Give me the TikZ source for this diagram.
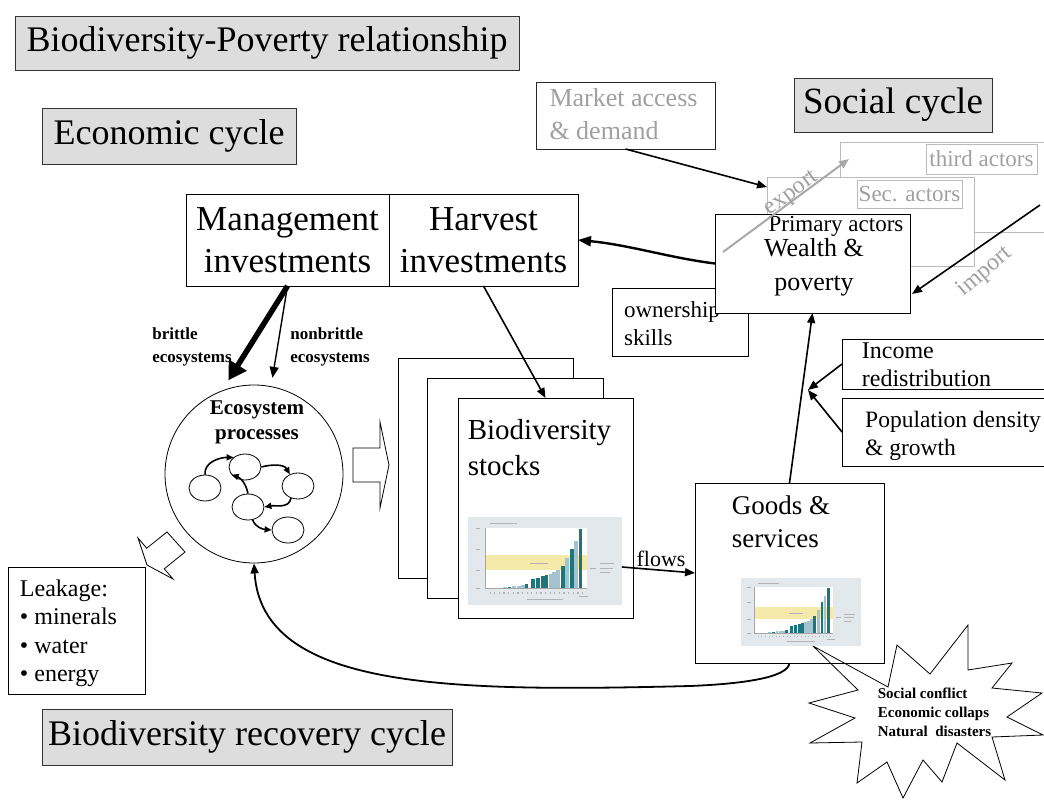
\documentclass[tikz,border=0pt]{standalone}
\usepackage{fontspec}
\setmainfont{Liberation Serif}
\usetikzlibrary{arrows.meta,calc,shapes.geometric}
\definecolor{titlefill}{HTML}{DDDDDD}
\definecolor{actline}{HTML}{BBBBBB}
\definecolor{acttext}{HTML}{A0A0A0}
\definecolor{chartteal}{HTML}{1B767E}
\definecolor{chartlight}{HTML}{A3C3CE}
\definecolor{chartbg}{HTML}{E2E8EC}
\definecolor{chartyel}{HTML}{F5EAAA}
\definecolor{expgray}{HTML}{A8A8A8}

\newcommand{\bpchart}[4]{%
 \begin{scope}[shift={(#1,#2)},xscale=#3,yscale=#4]
  \fill[chartbg] (0,0) rectangle (1,1);
  \fill[white] (0.11,0.13) rectangle (0.77,0.81);
  \fill[chartyel] (0.11,0.43) rectangle (0.77,0.60);
  \draw[gray!70,line width=0.3pt] (0.11,0.13) -- (0.11,0.81) -- (0.77,0.81);
  \foreach \cbx/\cbt/\cbc in {0.24/0.80/chartlight,0.27/0.79/chartteal,0.30/0.785/chartlight,0.33/0.78/chartlight,0.355/0.775/chartlight,0.38/0.76/chartteal,0.42/0.71/chartteal,0.455/0.69/chartteal,0.485/0.67/chartteal,0.51/0.655/chartteal,0.535/0.645/chartlight,0.56/0.625/chartlight,0.585/0.60/chartlight,0.615/0.56/chartteal,0.645/0.47/chartlight,0.675/0.36/chartteal,0.70/0.27/chartlight,0.73/0.14/chartteal}
   {\fill[\cbc] (\cbx-0.012,\cbt) rectangle (\cbx+0.012,0.81);}
  \foreach \cbx in {0.14,0.17,...,0.74} {\fill[gray!60] (\cbx,0.85) rectangle (\cbx+0.008,0.87);}
  \draw[gray!60,line width=0.3pt] (0.14,0.07) -- (0.32,0.07)
    (0.38,0.93) -- (0.62,0.93) (0.72,0.90) -- (0.78,0.90)
    (0.86,0.53) -- (0.95,0.53) (0.86,0.58) -- (0.94,0.58) (0.86,0.63) -- (0.92,0.63)
    (0.79,0.58) -- (0.83,0.58) (0.40,0.52) -- (0.52,0.52)
    (0.05,0.13) -- (0.08,0.13) (0.05,0.36) -- (0.08,0.36) (0.05,0.60) -- (0.08,0.60) (0.05,0.81) -- (0.08,0.81);
 \end{scope}}

\begin{document}
\begin{tikzpicture}[x=1pt,y=-1pt,
  box/.style={draw=black, line width=0.8pt, fill=white, inner sep=0pt, outer sep=0pt, anchor=north west},
  titlebox/.style={box, draw=black!80, fill=titlefill, font=\fontsize{36}{43}\selectfont},
  graybox/.style={box, draw=actline},
  txt/.style={inner sep=0pt, outer sep=0pt},
  bigfont/.style={font=\fontsize{35}{42}\selectfont},
  midfont/.style={font=\fontsize{24}{28.5}\selectfont},
  smfont/.style={font=\fontsize{23}{28}\selectfont},
  arr/.style={line width=1.6pt, -{Triangle[length=10pt,width=8pt]}},
  smarr/.style={line width=1.6pt, -{Triangle[length=7pt,width=6pt]}},
  smell/.style={draw, ellipse, line width=0.8pt, minimum width=32pt, minimum height=26pt, inner sep=0pt}]
\useasboundingbox (0,0) rectangle (1044,805);
\clip (0,0) rectangle (1044,805);

% titles
\node[titlebox, minimum width=504pt, minimum height=54pt] (title) at (15,16) {Biodiversity-Poverty relationship};
\node[titlebox, minimum width=254pt, minimum height=56pt] (econ) at (42,108) {Economic cycle};
\node[titlebox, minimum width=410pt, minimum height=56pt] (recov) at (42,709) {Biodiversity recovery cycle};
\node[titlebox, font=\fontsize{37}{44}\selectfont, minimum width=198pt, minimum height=54pt] (social) at (794,78) {Social cycle};

% market access
\node[box, draw=black!85, minimum width=179pt, minimum height=67pt] (market) at (536,82) {};
\node[txt, align=left, text=acttext, font=\fontsize{26}{33}\selectfont] (markettxt) at (623.5,114.5) {Market access\\\& demand};

% actors
\node[graybox, minimum width=220pt, minimum height=90pt] (third) at (840,142) {};
\node[graybox, smfont, text=acttext, minimum width=111pt, minimum height=30pt] (thirdlbl) at (926,144) {third actors};
\node[graybox, minimum width=207pt, minimum height=89pt] (sec) at (767,177) {};
\node[graybox, smfont, text=acttext, minimum width=105pt, minimum height=28pt] (seclbl) at (857,180) {Sec. actors};
\node[box, minimum width=136pt, minimum height=68pt] (own) at (612,288) {};
\node[txt, smfont, align=left] (owntxt) at (672,324) {ownership\\skills};
\node[box, minimum width=195pt, minimum height=99pt] (prim) at (715,214) {};
\node[txt, smfont] (primlbl) at (836,226) {Primary actors};
\node[txt, align=center, font=\fontsize{26}{34}\selectfont] (wealth) at (814,267) {Wealth \&\\poverty};

% income / population
\node[box, minimum width=220pt, minimum height=50pt] (income) at (842,339) {};
\node[txt, midfont, align=left] (incometxt) at (926.5,365) {Income\\redistribution};
\node[box, minimum width=220pt, minimum height=68pt] (pop) at (842,398) {};
\node[txt, align=left, font=\fontsize{23.5}{28}\selectfont] (poptxt) at (953,435.5) {Population density\\\& growth};

% investments
\node[box, bigfont, align=center, minimum width=203pt, minimum height=92pt] (mgmt) at (186,194) {Management\\investments};
\node[box, bigfont, align=center, minimum width=189pt, minimum height=92pt] (harv) at (389,194) {Harvest\\investments};

% biodiversity stocks pages
\node[box, minimum width=175pt, minimum height=220pt] (pgback) at (398,358) {};
\node[box, minimum width=176pt, minimum height=220pt] (pgmid) at (427,378) {};
\node[box, minimum width=175pt, minimum height=220pt] (pgfront) at (458,398) {};
\node[txt, align=left, font=\fontsize{29}{36}\selectfont] (stockstxt) at (539.5,448) {Biodiversity\\stocks};
\bpchart{468}{517}{154}{88}

% starburst
\draw[line width=0.8pt] (813,646) -- (858,690) -- (809,703) -- (855,718) -- (810,743) -- (862,742) -- (857,783) -- (887,762) -- (903,798) -- (923,760) -- (942,782) -- (957,743) -- (1005,780) -- (992,737) -- (1043,735) -- (1007,717) -- (1042,693) -- (992,688) -- (1012,663) -- (968,670) -- (968,625) -- (930,674) -- (897,645) -- (888,687) -- cycle;
\node[txt, align=left, font=\fontsize{15}{19}\selectfont\bfseries] (burst) at (934.5,712) {Social conflict\\Economic collaps\\Natural\ \ disasters};

% goods & services
\node[box, fill=none, minimum width=189pt, minimum height=180pt] (goods) at (695,483) {};
\node[txt, align=left, font=\fontsize{27}{33}\selectfont] (goodstxt) at (781,522) {Goods \&\\services};
\bpchart{741}{578}{120}{68}

% ecosystem circle
\node[draw, circle, line width=0.8pt, minimum size=178pt, inner sep=0pt] (eco) at (254,474) {};
\node[txt, align=center, font=\fontsize{21}{25}\selectfont\bfseries] (ecotxt) at (257,422.5) {Ecosystem\\processes};
\node[smell] (e1) at (205,488) {};
\node[smell] (e2) at (245,467) {};
\node[smell] (e3) at (298,486) {};
\node[smell] (e4) at (248,507) {};
\node[smell] (e5) at (288,530) {};
\draw[smarr] (e1.north) to[out=95,in=180] (e2.140);
\draw[smarr] (e2.east) to[out=15,in=120] (e3.125);
\draw[smarr] (e3.240) to[out=260,in=10] (e4.east);
\draw[smarr] (e4.north) to[bend right=30] (e2.210);
\draw[smarr] (e4.290) to[out=-70,in=175] (e5.west);

% block arrows
\draw[line width=0.8pt, fill=white] (353,448) -- (380,448) -- (380,422) -- (389,465) -- (380,508) -- (380,482) -- (353,482) -- cycle;
\draw[line width=0.8pt, fill=white] (167,532) -- (146.7,548.2) -- (138,538) -- (147,565) -- (173,579) -- (164.3,568.8) -- (185,552) -- cycle;

% leakage
\node[box, minimum width=137pt, minimum height=127pt] (leak) at (8,567) {};
\node[txt, midfont, align=left] (leaktxt) at (68.5,633.5) {Leakage:\\• minerals\\• water\\• energy};

% brittle labels
\node[txt, align=left, font=\fontsize{17}{23}\selectfont\bfseries] (brittle) at (192,346.5) {brittle\\ecosystems};
\node[txt, align=left, font=\fontsize{17}{23}\selectfont\bfseries] (nonbrittle) at (330,346.5) {nonbrittle\\ecosystems};

% management arrows
\draw[line width=5.5pt, -{Triangle[length=18pt,width=20pt]}, shorten >=12pt] (mgmt.south) -- (eco.111);
\draw[line width=1.4pt, -{Triangle[length=11pt,width=9pt]}, shorten >=8.5pt] (mgmt.south) -- (eco.79);

% other connectors
\draw[arr] (harv.south) -- (pgfront.north);
\coordinate (flowS) at (622,567);
\draw[arr] (flowS) -- (goods.west);
\node[txt, font=\fontsize{22}{26}\selectfont] (flowslbl) at (661,559) {flows};
\draw[line width=1.8pt, -{Triangle[length=10pt,width=8pt]}] (goods.south) .. controls (788,678) and (740,684) .. (690,686) .. controls (450,692) and (262,690) .. (eco.south);
\draw[arr] (goods.north) -- (prim.south);
\coordinate (meet) at (808,390);
\draw[arr] (income.west) -- (meet);
\draw[arr] (pop.west) -- (meet);
\draw[line width=2.4pt, -{Triangle[length=13pt,width=10pt]}] (prim.west) .. controls (670,258) and (630,245) .. (harv.east);
\coordinate (secin) at (767,187);
\draw[arr] (market.south) -- (secin);
\coordinate (expS) at (723,252);
\coordinate (expE) at (849,159);
\draw[line width=2pt, draw=expgray, -{Triangle[length=10pt,width=8pt]}] (expS) -- (expE);
\node[txt, text=acttext, rotate=36, font=\fontsize{24}{28}\selectfont] (exptxt) at (792,194) {export};
\coordinate (impS) at (1040,205);
\coordinate (impE) at (912,294);
\draw[arr] (impS) -- (impE);
\node[txt, text=acttext, rotate=40, font=\fontsize{24}{28}\selectfont] (imptxt) at (985,272) {import};
\end{tikzpicture}
\end{document}
